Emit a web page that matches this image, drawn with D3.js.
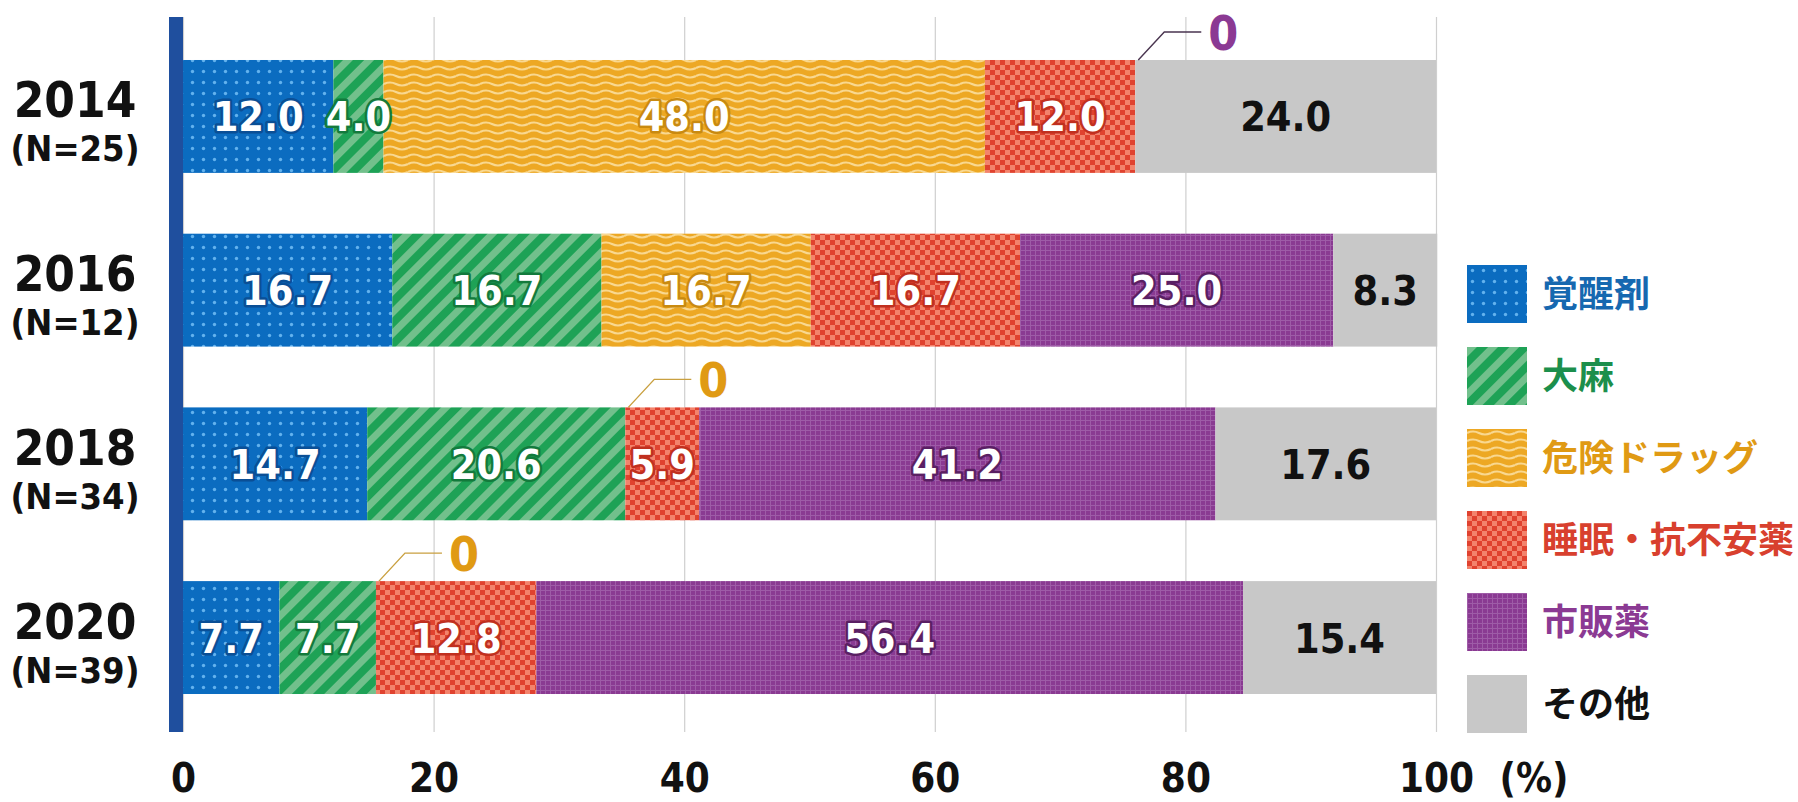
<!DOCTYPE html>
<html>
<head>
<meta charset="utf-8">
<script src="https://cdn.jsdelivr.net/npm/d3@7"></script>
<style>
  body { margin: 0; background: #fff; }
  svg { display: block; }
  .num { font-family: "DejaVu Sans Condensed", "Liberation Sans Narrow", Roboto, sans-serif; font-weight: bold; }
  .jp { font-family: "Noto Sans CJK JP", sans-serif; font-weight: bold; }
</style>
</head>
<body>
<div id="container"></div>
<script>
const width = 1798;
const height = 802;

// DATA
const years = ["2014", "2016", "2018", "2020"];
const sampleSizes = ["(N=25)", "(N=12)", "(N=34)", "(N=39)"];
const categories = ["覚醒剤", "大麻", "危険ドラッグ", "睡眠・抗不安薬", "市販薬", "その他"];
const stimulants = [12.0, 16.7, 14.7, 7.7];
const cannabis = [4.0, 16.7, 20.6, 7.7];
const dangerousDrugs = [48.0, 16.7, 0, 0];
const sleepingPills = [12.0, 16.7, 5.9, 12.8];
const otcDrugs = [0, 25.0, 41.2, 56.4];
const others = [24.0, 8.3, 17.6, 15.4];
const xTicks = [0, 20, 40, 60, 80, 100];

const seriesValues = [stimulants, cannabis, dangerousDrugs, sleepingPills, otcDrugs, others];

// styles per category
const fills = ["url(#p-dots)", "url(#p-stripes)", "url(#p-waves)", "url(#p-check)", "url(#p-grid)", "#c8c8c8"];
const textColors = ["#1668b0", "#1c8f4c", "#e09a14", "#d8402e", "#8b3a93", "#111"];
const haloColors = ["#0a4f96", "#137a3c", "#c98a10", "#c0301f", "#5a1f63", null];
const leaderColors = ["#1668b0", "#1c8f4c", "#c9a040", "#d8402e", "#4a3550", "#555"];

const svg = d3.select("div#container").append("svg")
    .attr("width", width)
    .attr("height", height);

// PATTERNS
const defs = svg.append("defs");

const dots = defs.append("pattern").attr("id", "p-dots")
    .attr("patternUnits", "userSpaceOnUse").attr("width", 11).attr("height", 11);
dots.append("rect").attr("width", 11).attr("height", 11).attr("fill", "#0b6cc0");
dots.append("circle").attr("cx", 5.5).attr("cy", 5.5).attr("r", 1.7).attr("fill", "#62b2ee");

const stripes = defs.append("pattern").attr("id", "p-stripes")
    .attr("patternUnits", "userSpaceOnUse").attr("width", 15).attr("height", 15)
    .attr("patternTransform", "rotate(45)");
stripes.append("rect").attr("width", 15).attr("height", 15).attr("fill", "#1ea256");
stripes.append("rect").attr("width", 7).attr("height", 15).attr("fill", "#72c08c");

const waves = defs.append("pattern").attr("id", "p-waves")
    .attr("patternUnits", "userSpaceOnUse").attr("width", 24).attr("height", 8);
waves.append("rect").attr("width", 24).attr("height", 8).attr("fill", "#eda824");
waves.append("path").attr("d", "M0 4 Q6 1 12 4 T24 4")
    .attr("fill", "none").attr("stroke", "#f9d890").attr("stroke-width", 2.2);

const check = defs.append("pattern").attr("id", "p-check")
    .attr("patternUnits", "userSpaceOnUse").attr("width", 10).attr("height", 10);
check.append("rect").attr("width", 10).attr("height", 10).attr("fill", "#f3836c");
check.append("rect").attr("width", 5).attr("height", 5).attr("fill", "#e0422f");
check.append("rect").attr("x", 5).attr("y", 5).attr("width", 5).attr("height", 5).attr("fill", "#e0422f");

const grid = defs.append("pattern").attr("id", "p-grid")
    .attr("patternUnits", "userSpaceOnUse").attr("width", 5).attr("height", 5);
grid.append("rect").attr("width", 5).attr("height", 5).attr("fill", "#8a3a92");
grid.append("path").attr("d", "M0 0.5H5M0.5 0V5")
    .attr("stroke", "#9e5ba7").attr("stroke-width", 1);

// SCALES
const xScale = d3.scaleLinear().domain([0, 100]).range([183, 1436]);
const yScale = d3.scaleBand().domain(years).range([17, 737])
    .paddingInner(0.35).paddingOuter(0.2475);

// GRIDLINES
const gridAxis = d3.axisBottom(xScale).tickValues(xTicks).tickSize(-(732 - 17)).tickFormat("");
svg.append("g")
    .attr("transform", "translate(0,732)")
    .call(gridAxis)
    .call(g => g.select(".domain").remove())
    .call(g => g.selectAll("line").attr("stroke", "#cfcfcf").attr("stroke-width", 1.2));

// STACKED SEGMENTS
const stacked = years.map(function (year, i) {
    let start = 0;
    return seriesValues.map(function (vals, c) {
        const seg = { year: year, cat: c, start: start, value: vals[i] };
        start += vals[i];
        return seg;
    });
});

const rows = svg.selectAll(".row")
    .data(stacked)
    .enter()
    .append("g")
    .attr("class", "row");

rows.selectAll("rect")
    .data(d => d.filter(s => s.value > 0))
    .enter()
    .append("rect")
    .attr("x", d => xScale(d.start))
    .attr("y", d => yScale(d.year))
    .attr("width", d => xScale(d.start + d.value) - xScale(d.start))
    .attr("height", yScale.bandwidth())
    .attr("fill", d => fills[d.cat]);

rows.selectAll(".val")
    .data(d => d.filter(s => s.value > 0))
    .enter()
    .append("text")
    .attr("class", "val num")
    .attr("x", d => xScale(d.start + d.value / 2))
    .attr("y", d => yScale(d.year) + yScale.bandwidth() / 2 + 15)
    .attr("text-anchor", "middle")
    .attr("font-size", 41)
    .attr("fill", d => d.cat === 5 ? "#111" : "#fff")
    .attr("stroke", d => haloColors[d.cat] || "none")
    .attr("stroke-width", 5)
    .attr("stroke-linejoin", "round")
    .attr("paint-order", "stroke")
    .text(d => d.value.toFixed(1));

// zero callouts
const zeros = stacked.flat().filter(s => s.value === 0);
const callouts = svg.selectAll(".zero")
    .data(zeros)
    .enter()
    .append("g")
    .attr("class", "zero");

callouts.append("path")
    .attr("d", function (d) {
        const x0 = xScale(d.start) + 3;
        const y0 = yScale(d.year);
        return "M" + x0 + "," + y0 + "L" + (x0 + 26) + "," + (y0 - 28) + "H" + (x0 + 63);
    })
    .attr("fill", "none")
    .attr("stroke", d => leaderColors[d.cat])
    .attr("stroke-width", 1.4);

callouts.append("text")
    .attr("class", "num")
    .attr("x", d => xScale(d.start) + 88)
    .attr("y", d => yScale(d.year) - 10)
    .attr("text-anchor", "middle")
    .attr("font-size", 48)
    .attr("fill", d => textColors[d.cat])
    .text("0");

// LEFT AXIS BAR
svg.append("rect")
    .attr("x", 169).attr("y", 17)
    .attr("width", 14).attr("height", 732 - 17)
    .attr("fill", "#1f4f9e");

// YEAR LABELS
const yearLabels = svg.selectAll(".year")
    .data(years)
    .enter()
    .append("g")
    .attr("class", "year");

yearLabels.append("text")
    .attr("class", "num")
    .attr("x", 75)
    .attr("y", d => yScale(d) + yScale.bandwidth() / 2 + 1)
    .attr("text-anchor", "middle")
    .attr("font-size", 49)
    .attr("fill", "#111")
    .text(d => d);

yearLabels.append("text")
    .attr("class", "num")
    .attr("x", 75)
    .attr("y", d => yScale(d) + yScale.bandwidth() / 2 + 45)
    .attr("text-anchor", "middle")
    .attr("font-size", 36)
    .attr("font-weight", 600)
    .attr("fill", "#111")
    .text((d, i) => sampleSizes[i]);

// X AXIS LABELS
const xaxis = d3.axisBottom(xScale).tickValues(xTicks).tickSize(0).tickFormat(d3.format("d"));
svg.append("g")
    .attr("transform", "translate(0,792)")
    .call(xaxis)
    .call(g => g.select(".domain").remove())
    .call(g => g.selectAll("text")
        .attr("class", "num")
        .attr("y", 0).attr("dy", null)
        .attr("font-size", 40)
        .attr("fill", "#111"));

svg.append("text")
    .attr("class", "num")
    .attr("x", 1534)
    .attr("y", 792)
    .attr("text-anchor", "middle")
    .attr("font-size", 40)
    .attr("fill", "#111")
    .text("(%)");

// LEGEND
const legend = svg.selectAll(".legend")
    .data(categories)
    .enter()
    .append("g")
    .attr("class", "legend")
    .attr("transform", (d, i) => "translate(1467," + (265 + i * 82) + ")");

legend.append("rect")
    .attr("width", 60)
    .attr("height", 58)
    .attr("fill", (d, i) => fills[i]);

legend.append("text")
    .attr("class", "jp")
    .attr("x", 75)
    .attr("y", 42)
    .attr("font-size", 36)
    .attr("fill", (d, i) => textColors[i])
    .text(d => d);
</script>
</body>
</html>
